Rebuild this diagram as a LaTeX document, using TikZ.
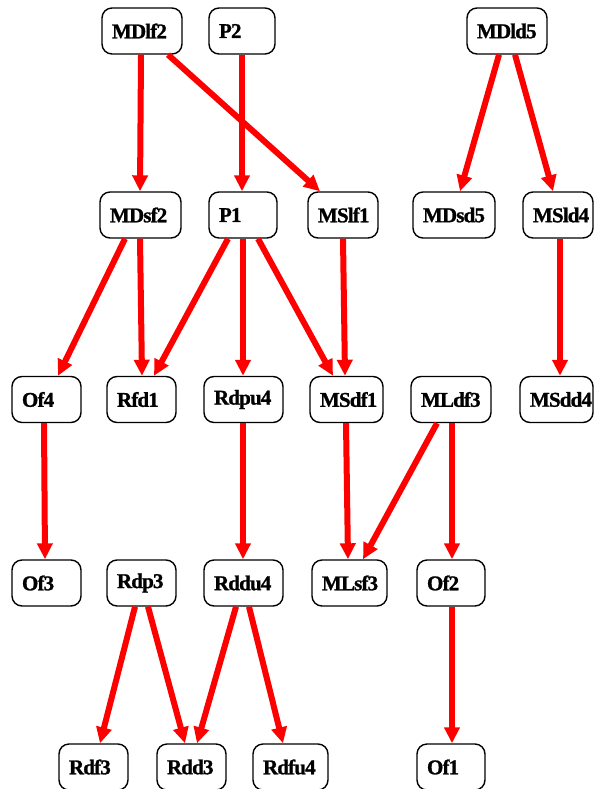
\documentclass[tikz,border=0pt]{standalone}
\usepackage{fontspec}
\setmainfont{Liberation Serif}
\newfontfamily\nodefont[FakeBold=1.2,LetterSpace=-4]{Liberation Serif Bold}
\usetikzlibrary{arrows.meta}
\tikzset{
 box/.style={draw=black, line width=1.4pt, rounded corners=10pt, minimum height=46pt, inner xsep=10pt, inner ysep=0pt, align=left, font=\nodefont\fontsize{21}{21}\selectfont, anchor=center},
 arr/.style={draw=red, line width=6pt, -{Triangle[length=16pt,width=15pt]}}
}
\newcommand\gbox[5]{\node[box, text width=#3pt] (#1) at (#2,#4) {#5};}
\begin{document}
\begin{tikzpicture}[x=1pt,y=-1pt]
\useasboundingbox (0,0) rectangle (595,789);
\gbox{mdlf2}{142}{60}{31}{MDlf2}
\gbox{ptwo}{242}{46}{31}{P2}
\gbox{mdld5}{507}{60}{31}{MDld5}
\gbox{mdsf2}{140.5}{61}{215}{MDsf2}
\gbox{pone}{243}{48}{215}{P1}
\gbox{mslf1}{343}{50}{215}{MSlf1}
\gbox{mdsd5}{454}{62}{215}{MDsd5}
\gbox{msld4}{558}{50}{215}{MSld4}
\gbox{of4}{46.5}{49}{399.5}{Of4}
\gbox{rfd1}{141.5}{49}{399.5}{Rfd1}
\gbox{rdpu4}{243.5}{59}{399.5}{Rdpu4}
\gbox{msdf1}{346.5}{53}{399.5}{MSdf1}
\gbox{mldf3}{451}{60}{399.5}{MLdf3}
\gbox{msdd4}{556.5}{53}{399.5}{MSdd4}
\gbox{of3}{46.5}{49}{583}{Of3}
\gbox{rdp3}{141.5}{49}{583}{Rdp3}
\gbox{rddu4}{243.5}{59}{583}{Rddu4}
\gbox{mlsf3}{349.5}{55}{583}{MLsf3}
\gbox{of2}{451}{48}{583}{Of2}
\gbox{rdf3}{93.5}{49}{767}{Rdf3}
\gbox{rdd3}{191.5}{49}{767}{Rdd3}
\gbox{rdfu4}{290.5}{55}{767}{Rdfu4}
\gbox{of1}{451}{48}{767}{Of1}
\draw[arr] ([xshift=-1pt]mdlf2.south) -- ([xshift=-0.5pt]mdsf2.north);
\draw[arr] ([xshift=26pt]mdlf2.south) -- ([xshift=-23pt]mslf1.north);
\draw[arr] (ptwo.south) -- ([xshift=-1pt]pone.north);
\draw[arr] ([xshift=-8pt]mdld5.south) -- ([xshift=6pt]mdsd5.north);
\draw[arr] ([xshift=8pt]mdld5.south) -- ([xshift=-5pt]msld4.north);
\draw[arr] ([xshift=-15.5pt]mdsf2.south) -- ([xshift=11.5pt]of4.north);
\draw[arr] ([xshift=-0.5pt]mdsf2.south) -- ([xshift=0.5pt]rfd1.north);
\draw[arr] ([xshift=-15pt]pone.south) -- ([xshift=12.5pt]rfd1.north);
\draw[arr] (pone.south) -- ([xshift=-0.5pt]rdpu4.north);
\draw[arr] ([xshift=15pt]pone.south) -- ([xshift=-13.5pt]msdf1.north);
\draw[arr] (mslf1.south) -- ([xshift=-1.5pt]msdf1.north);
\draw[arr] ([xshift=2pt]msld4.south) -- ([xshift=3.5pt]msdd4.north);
\draw[arr] ([xshift=-2.5pt]of4.south) -- ([xshift=-1.5pt]of3.north);
\draw[arr] ([xshift=-0.5pt]rdpu4.south) -- ([xshift=-0.5pt]rddu4.north);
\draw[arr] ([xshift=-0.5pt]msdf1.south) -- ([xshift=-1.5pt]mlsf3.north);
\draw[arr] ([xshift=-14pt]mldf3.south) -- ([xshift=13.5pt]mlsf3.north);
\draw[arr] ([xshift=1pt]mldf3.south) -- ([xshift=1pt]of2.north);
\draw[arr] ([xshift=-6.5pt]rdp3.south) -- ([xshift=6.5pt]rdf3.north);
\draw[arr] ([xshift=6.5pt]rdp3.south) -- ([xshift=-6.5pt]rdd3.north);
\draw[arr] ([xshift=-7.5pt]rddu4.south) -- ([xshift=5.5pt]rdd3.north);
\draw[arr] ([xshift=5.5pt]rddu4.south) -- ([xshift=-7.5pt]rdfu4.north);
\draw[arr] ([xshift=1pt]of2.south) -- ([xshift=1pt]of1.north);
\end{tikzpicture}
\end{document}
